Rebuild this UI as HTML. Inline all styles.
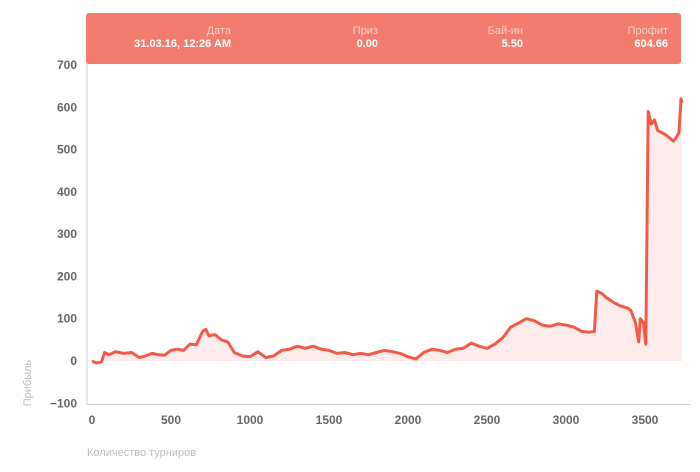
<!DOCTYPE html>
<html><head><meta charset="utf-8"><style>
body{margin:0;background:#fff;width:700px;height:467px;overflow:hidden;font-family:"Liberation Sans",sans-serif}
svg text{font-family:"Liberation Sans",sans-serif}
</style></head><body>
<svg id="chart" width="700" height="467" viewBox="0 0 700 467">
<path id="area" fill="#fdeceb"/>
<path id="line" fill="none" stroke="#f25a45" stroke-width="3" stroke-linejoin="round"/>
<line x1="87" y1="60" x2="87" y2="405" stroke="#ccc" stroke-width="1"/>
<line x1="87" y1="404.5" x2="690" y2="404.5" stroke="#ccc" stroke-width="1"/>
<g id="yticks" font-size="12" font-weight="bold" fill="#666" text-anchor="end"></g>
<g id="xticks" font-size="12" font-weight="bold" fill="#666" text-anchor="middle"></g>
<text transform="translate(31,383) rotate(-90)" text-anchor="middle" font-size="11" fill="#bbb">Прибыль</text>
<text x="87" y="456" font-size="11" fill="#bbb">Количество турниров</text>
<g>
<rect x="86" y="13" width="595" height="51" rx="3" fill="#f27d6f"/>
<g font-size="11" fill="#fbd0ca" text-anchor="end">
<text x="231" y="34">Дата</text>
<text x="378" y="34">Приз</text>
<text x="523" y="34">Бай-ин</text>
<text x="668" y="34">Профит</text>
</g>
<g font-size="11" font-weight="bold" fill="#fff" text-anchor="end">
<text x="231" y="47">31.03.16, 12:26 AM</text>
<text x="378" y="47">0.00</text>
<text x="523" y="47">5.50</text>
<text x="668" y="47">604.66</text>
</g>
</g>
</svg>
<script>
const tournaments=[0,30,60,80,110,150,200,250,300,340,380,420,460,500,540,580,620,660,700,720,740,780,820,860,900,950,1000,1050,1100,1150,1200,1250,1300,1350,1400,1450,1500,1550,1600,1650,1700,1750,1800,1850,1900,1950,2000,2050,2100,2150,2200,2250,2300,2350,2400,2450,2500,2550,2600,2650,2700,2750,2800,2850,2900,2950,3000,3050,3100,3150,3180,3195,3225,3255,3295,3345,3390,3410,3440,3460,3470,3490,3505,3520,3540,3560,3580,3630,3680,3700,3715,3728,3735];
const profit=[0,-5,-2,20,15,22,18,20,8,12,18,15,14,25,28,25,40,38,70,75,60,62,50,45,20,12,10,22,8,12,25,28,35,30,35,28,25,18,20,15,18,15,20,25,22,18,10,5,20,28,25,20,28,30,42,35,30,40,55,80,90,100,95,85,82,88,85,80,70,68,70,165,160,150,140,130,125,120,90,45,100,90,40,590,560,570,545,535,520,530,540,620,610];
const yTicks=[-100,0,100,200,300,400,500,600,700];
const xTicks=[0,500,1000,1500,2000,2500,3000,3500];
const xs=v=>92+v*0.158;
const ys=v=>361-v*0.4229;
const ns="http://www.w3.org/2000/svg";
let d="";
tournaments.forEach((t,i)=>{d+=(i?"L":"M")+xs(t).toFixed(1)+","+ys(profit[i]).toFixed(1);});
document.getElementById("line").setAttribute("d",d);
const last=tournaments[tournaments.length-1];
document.getElementById("area").setAttribute("d",d+"L"+xs(last)+","+ys(0)+"L"+xs(0)+","+ys(0)+"Z");
const yg=document.getElementById("yticks");
yTicks.forEach(v=>{const t=document.createElementNS(ns,"text");


t.setAttribute("x",77);t.setAttribute("y",ys(v)+4);t.textContent=v===-100?"−100":v;yg.appendChild(t);});
const xg=document.getElementById("xticks");
xTicks.forEach(v=>{const t=document.createElementNS(ns,"text");


t.setAttribute("x",xs(v));t.setAttribute("y",424);t.textContent=v;xg.appendChild(t);});
</script>
</body></html>
